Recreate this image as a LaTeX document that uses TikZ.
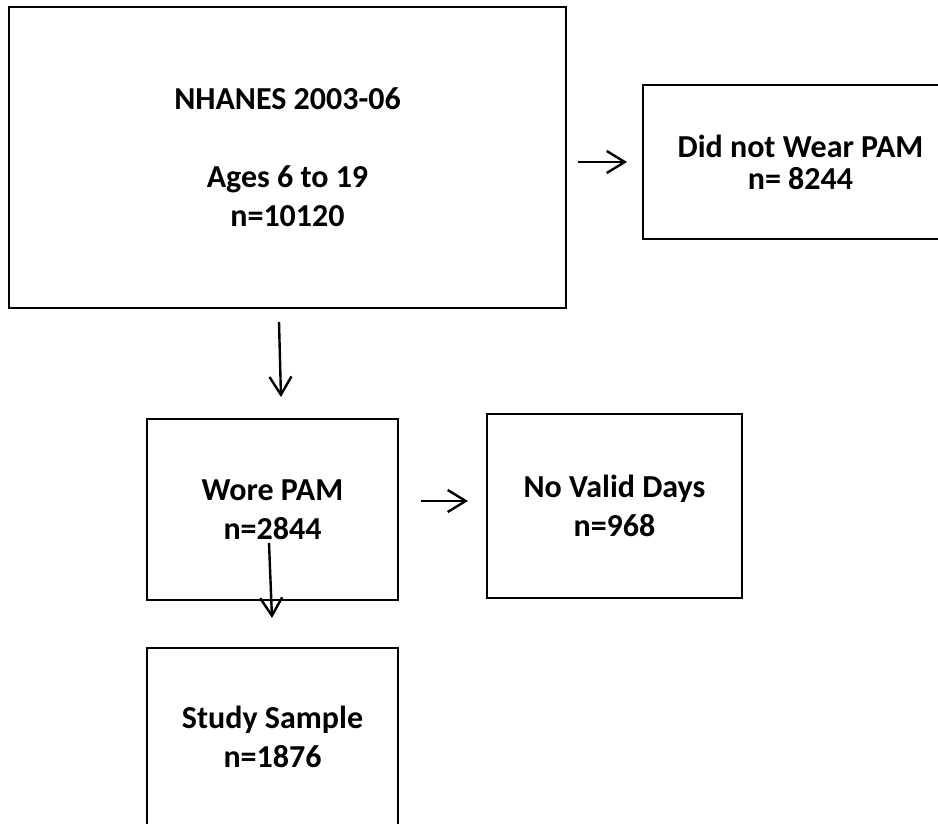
\documentclass[tikz,border=0pt]{standalone}
\usepackage{fontspec}
\setmainfont{Carlito}
\usetikzlibrary{arrows.meta}

\begin{document}
\begin{tikzpicture}[x=1pt, y=1pt,
  box/.style={draw, line width=2.4pt, inner sep=0pt, outer sep=0pt, align=center,
    font=\fontsize{32}{39}\selectfont\bfseries},
  arr/.style={line width=2.4pt, -{Straight Barb[length=18pt, width=22pt]}}]
% Page
\path[use as bounding box, clip] (0,0) rectangle (938,824);

% Boxes
\node[box, minimum width=557pt, minimum height=301pt] (nhanes) at (287.5,666.5)
  {NHANES 2003-06\\[39pt] Ages 6 to 19\\ n=10120};
\node[box, minimum width=315pt, minimum height=154pt,
  font=\fontsize{32}{32}\selectfont\bfseries] (nowear) at (800.5,662)
  {Did not Wear PAM\\ n= 8244};
\node[box, minimum width=251pt, minimum height=181pt] (wore) at (272.5,314.5)
  {Wore PAM\\ n=2844};
\node[box, minimum width=255pt, minimum height=184pt] (novalid) at (614.5,318)
  {No Valid Days\\ n=968};
\node[box, minimum width=251pt, minimum height=178pt] (study) at (272.5,87)
  {Study Sample\\ n=1876};

% Arrow ends
\coordinate (a1s) at (578,662);
\coordinate (a1e) at (627,662);
\coordinate (a2s) at (279,502);
\coordinate (a2e) at (281,427);
\coordinate (a3s) at (421,323);
\coordinate (a3e) at (468,323);
\coordinate (a4s) at (269,281);
\coordinate (a4e) at (272,206);

% Arrows
\draw[arr] (a1s) -- (a1e);
\draw[arr] (a2s) -- (a2e);
\draw[arr] (a3s) -- (a3e);
\draw[arr] (a4s) -- (a4e);
\end{tikzpicture}
\end{document}
